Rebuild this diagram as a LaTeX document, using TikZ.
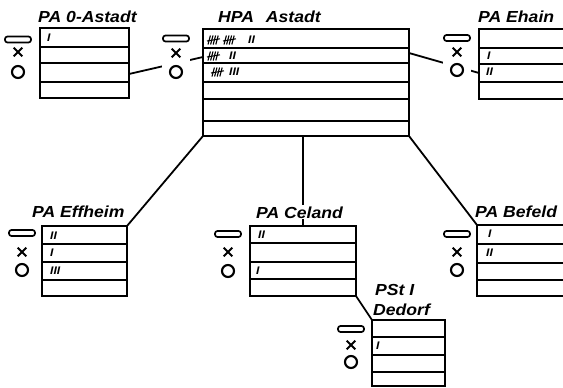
\documentclass[tikz,border=0pt]{standalone}
\usepackage{fontspec}
\newfontfamily\lblfont[FakeStretch=1.1]{Liberation Sans}
\newcommand\symgroup[4]{%
  \fill[white] (#1-14,#2-4) rectangle (#1+14,#4+7);
  \draw[pillmark] (#1-13,#2-3) rectangle (#1+13,#2+3);
  \draw[xmk] (#1-4.3,#3-4.3) -- (#1+4.3,#3+4.3) (#1-4.3,#3+4.3) -- (#1+4.3,#3-4.3);
  \draw[circmark] (#1,#4) circle (6);
}
\tikzset{tally/.pic={
  \foreach \i in {0,1,2,3} \draw[line width=1.1pt] (\i*2.6,4.5) -- (\i*2.6+2.4,-4.5);
  \draw[line width=1.1pt] (-1,1) -- (12,-1.2);
}}
\begin{document}
\begin{tikzpicture}[x=1pt,y=-1pt,
  tbl/.style={draw,line width=2.2pt,inner sep=0pt,outer sep=0pt,anchor=north west},
  rowl/.style={line width=1.4pt},
  conn/.style={line width=1.8pt},
  title/.style={font=\lblfont\bfseries\itshape\fontsize{16}{16}\selectfont,inner sep=0pt,anchor=base west},
  cnt/.style={font=\lblfont\bfseries\itshape\fontsize{11}{11}\selectfont,inner sep=0pt,anchor=west},
  pillmark/.style={line width=1.7pt,rounded corners=2.5pt},
  xmk/.style={line width=2pt},
  circmark/.style={line width=2.1pt},
]
\clip (0,0) rectangle (563,388);
% boxes
\node[tbl,minimum width=89,minimum height=70] (oastadt) at (40,28) {};
\node[tbl,minimum width=206,minimum height=107] (hpa) at (203,29) {};
\node[tbl,minimum width=130,minimum height=70] (ehain) at (479,29) {};
\node[tbl,minimum width=85,minimum height=70] (effheim) at (42,226) {};
\node[tbl,minimum width=106,minimum height=70] (celand) at (250,226) {};
\node[tbl,minimum width=130,minimum height=71] (befeld) at (477,225) {};
\node[tbl,minimum width=73,minimum height=66] (dedorf) at (372,320) {};
% row lines
\foreach \y in {47,63,82} \draw[rowl] (40,\y) -- (129,\y);
\foreach \y in {48,63,82,99,121} \draw[rowl] (203,\y) -- (409,\y);
\foreach \y in {48,64,82} \draw[rowl] (479,\y) -- (609,\y);
\foreach \y in {244,262,280} \draw[rowl] (42,\y) -- (127,\y);
\foreach \y in {243,262,279} \draw[rowl] (250,\y) -- (356,\y);
\foreach \y in {244,263,280} \draw[rowl] (477,\y) -- (607,\y);
\foreach \y in {337,355,372} \draw[rowl] (372,\y) -- (445,\y);
% connectors
\draw[conn] ([yshift=-11pt]oastadt.east) -- ([yshift=25.5pt]hpa.west);
\draw[conn] ([yshift=29.5pt]hpa.east) -- ([yshift=-9pt]ehain.west);
\draw[conn] (hpa.south west) -- (effheim.north east);
\draw[conn] (celand.north |- hpa.south) -- (celand.north);
\draw[conn] (hpa.south east) -- (befeld.north west);
\draw[conn] (celand.south east) -- (dedorf.north west);
% symbol columns
\symgroup{18}{39.5}{52}{72}
\symgroup{176}{38.5}{53}{72}
\symgroup{457}{38}{52}{70}
\symgroup{22}{233}{252}{270}
\symgroup{228}{234}{252}{271}
\symgroup{457}{234}{252}{270}
\symgroup{351}{329}{345}{362}
% titles
\node[title] (t1) at (38,23) {PA 0-Astadt};
\node[title] (t2) at (218,23) {HPA\hspace{7pt} Astadt};
\node[title] (t3) at (478,22) {PA Ehain};
\node[title] (t4) at (32,217) {PA Effheim};
\node[title,fill=white,inner sep=1pt] (t5) at (255,218) {PA Celand};
\node[title] (t6) at (475,217) {PA Befeld};
\node[title] (t7) at (375,295) {PSt I};
\node[title] (t8) at (373,315) {Dedorf};
% counts
\node[cnt] (c1) at (47,38) {I};
\pic at (208,40) {tally};
\pic at (224,40) {tally};
\node[cnt] (c2) at (248,40) {II};
\pic at (208,56) {tally};
\node[cnt] (c3) at (229,56) {II};
\pic at (212,72) {tally};
\node[cnt] (c4) at (229,72) {III};
\node[cnt] (c5) at (487,56) {I};
\node[cnt] (c6) at (486,72) {II};
\node[cnt] (c7) at (50,236) {II};
\node[cnt] (c8) at (50,253) {I};
\node[cnt] (c9) at (50,271) {III};
\node[cnt] (c10) at (258,235) {II};
\node[cnt] (c11) at (256,271) {I};
\node[cnt] (c12) at (488,234) {I};
\node[cnt] (c13) at (486,253) {II};
\node[cnt] (c14) at (376,346) {I};
\end{tikzpicture}
\end{document}
